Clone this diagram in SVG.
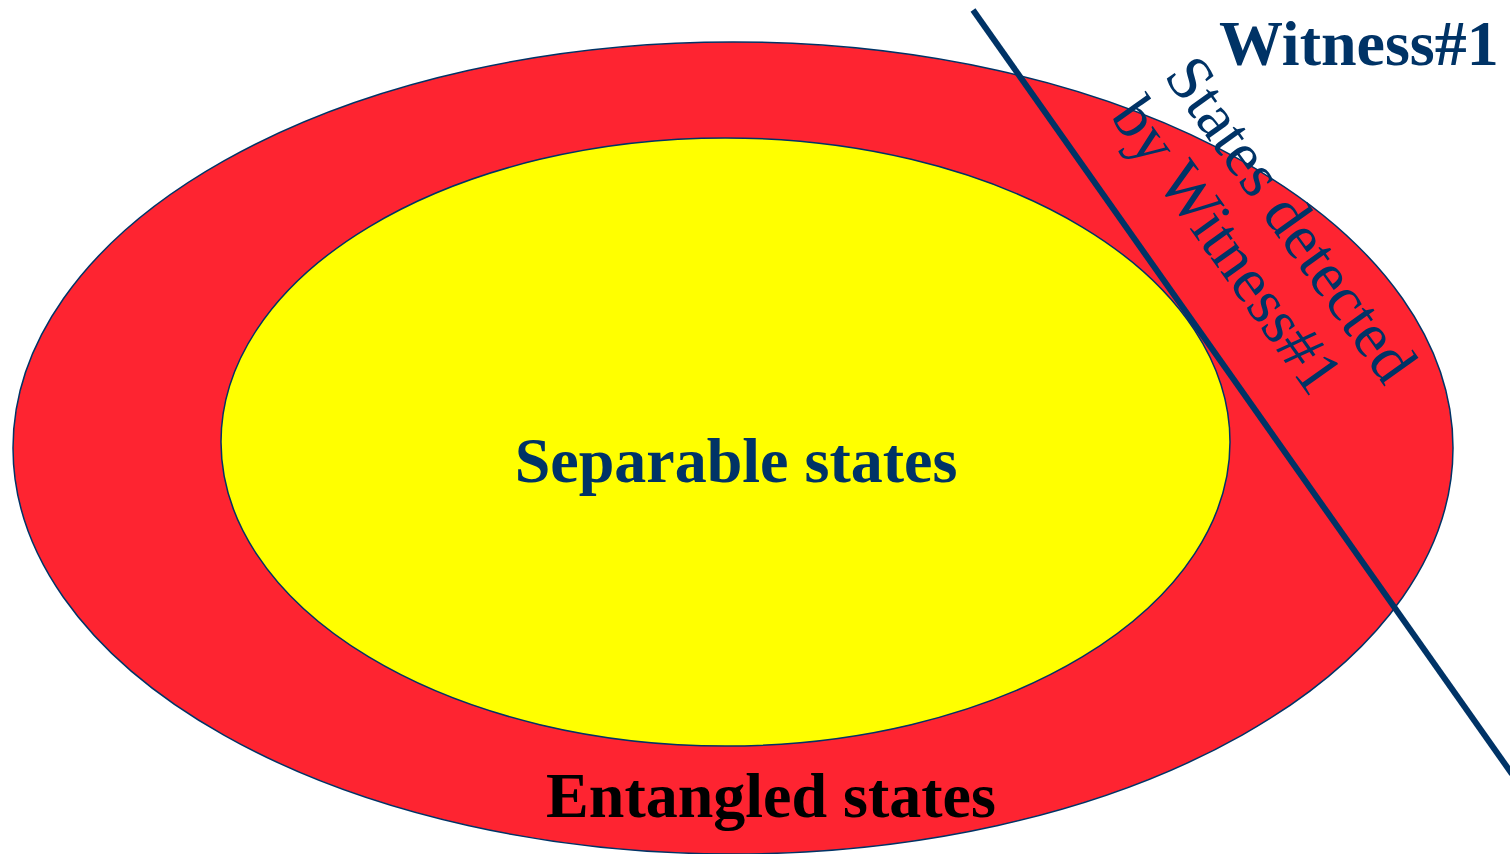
<svg xmlns="http://www.w3.org/2000/svg" width="1510" height="854" viewBox="0 0 1510 854">
<style>
.t{font-family:"Liberation Serif","Times New Roman",serif;font-size:64px;}
.b{font-weight:bold;}
.navy{fill:#003366;}
</style>
<rect width="1510" height="854" fill="#ffffff"/>
<g id="entangled">
<ellipse cx="733" cy="448" rx="720" ry="406" fill="#fe2431" stroke="#003366" stroke-width="1.5"/>
<text class="t b" x="771" y="817" text-anchor="middle" fill="#000000">Entangled states</text>
</g>
<g id="separable">
<ellipse cx="725.5" cy="442" rx="504.5" ry="304" fill="#ffff00" stroke="#003366" stroke-width="1.5"/>
<text class="t b navy" x="736" y="482" text-anchor="middle">Separable states</text>
</g>
<g id="connectors">
<line x1="973" y1="10" x2="1512" y2="774" stroke="#003366" stroke-width="6"/>
</g>
<g id="witness">
<text class="t b navy" x="1219" y="65">Witness#1</text>
</g>
<g id="detected" transform="translate(1163,76) rotate(54.5)">
<text class="t navy" x="0" y="0">States detected</text>
<text class="t navy" x="2" y="67">by Witness#1</text>
</g>
</svg>
